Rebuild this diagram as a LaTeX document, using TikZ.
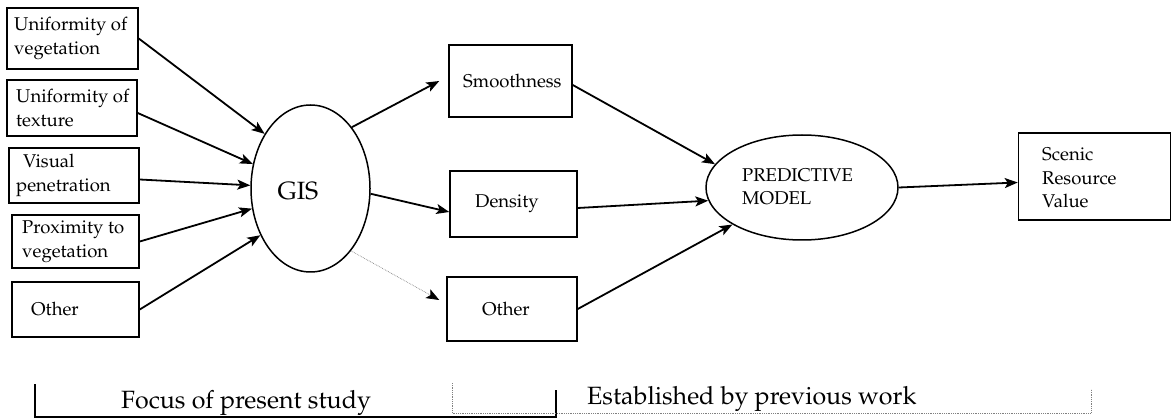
\documentclass[tikz,border=0pt]{standalone}
\usepackage[T1]{fontenc}
\usepackage{mathpazo}
\usetikzlibrary{arrows.meta,shapes.geometric}
\begin{document}
\begin{tikzpicture}[x=1pt,y=-1pt,
  box/.style={draw,line width=1.5pt,rectangle,inner sep=0pt},
  oval/.style={draw,line width=1.5pt,ellipse,inner sep=0pt},
  txt/.style={font=\fontsize{18.5}{23.5}\selectfont,align=left,inner sep=0pt},
  big/.style={font=\fontsize{25}{30}\selectfont,inner sep=0pt},
  foot/.style={font=\fontsize{25}{29}\selectfont,inner sep=0pt},
  arr/.style={line width=1.8pt,-{Stealth[length=13pt,width=10pt,inset=3pt]}},
  darr/.style={draw=gray,line width=0.7pt,densely dotted,-{Stealth[length=13pt,width=10pt,inset=3pt,color=black]}},
  solidbr/.style={line width=1.5pt},
  dotbr/.style={draw=gray,line width=0.8pt,densely dotted}]
\useasboundingbox (0,0) rectangle (1172,419);
% left boxes
\node[box,minimum width=131pt,minimum height=61pt] (b1) at (72.5,38.5) {};
\node[box,minimum width=130pt,minimum height=56pt] (b2) at (72,108) {};
\node[box,minimum width=130pt,minimum height=55pt] (b3) at (74,175.5) {};
\node[box,minimum width=127pt,minimum height=53pt] (b4) at (75.5,241.5) {};
\node[box,minimum width=127pt,minimum height=55pt] (b5) at (75.5,309.5) {};
\node[txt,anchor=west] (t1) at (14,38.5) {Uniformity of\\vegetation};
\node[txt,anchor=west] (t2) at (16,108) {Uniformity of\\texture};
\node[txt,anchor=west] (t3) at (16,175.5) {\hspace*{7pt}Visual\\penetration};
\node[txt,anchor=west] (t4) at (22,241.5) {Proximity to\\vegetation};
\node[txt,anchor=west] (t5) at (31,309.5) {Other};
% GIS
\node[oval,minimum width=119pt,minimum height=167pt] (gis) at (310.5,188.5) {};
\node[big] (gist) at (298,191) {GIS};
% middle boxes
\node[box,minimum width=123pt,minimum height=72pt] (sm) at (510.5,81) {};
\node[box,minimum width=127pt,minimum height=66pt] (de) at (513.5,204) {};
\node[box,minimum width=130pt,minimum height=64pt] (o2) at (512,309) {};
\node[txt,anchor=west] (smt) at (463,81) {Smoothness};
\node[txt,anchor=west] (det) at (475,204) {Density};
\node[txt,anchor=west] (o2t) at (482,309) {Other};
% predictive model
\node[oval,minimum width=192pt,minimum height=105pt] (pm) at (802,187.5) {};
\node[txt,anchor=west] (pmt) at (742,187) {PREDICTIVE\\MODEL};
% scenic
\node[box,minimum width=152pt,minimum height=87pt] (sc) at (1094.5,176.5) {};
\node[txt,anchor=west] (sct) at (1042,178) {Scenic\\Resource\\Value};
% arrows into GIS
\draw[arr] (b1.east) -- (gis.130);
\draw[arr] ([yshift=-5pt]b2.east) -- (gis.157);
\draw[arr] ([yshift=-4pt]b3.east) -- (gis.177);
\draw[arr] (b4.east) -- (gis.199);
\draw[arr] (b5.east) -- (gis.223);
% arrows out of GIS
\draw[arr] (gis.56) -- ([xshift=-9pt]sm.west);
\draw[arr] (gis.-5) -- ([yshift=-8pt]de.west);
\draw[darr] (gis.-57) -- ([xshift=-7pt,yshift=9pt]o2.west);
% into predictive model
\draw[arr] ([yshift=-4pt]sm.east) -- (pm.165);
\draw[arr] ([yshift=-4pt]de.east) -- (pm.188);
\draw[arr] (o2.east) -- (pm.208);
\draw[arr] (pm.east) -- ([yshift=-6pt]sc.west);
% bottom brackets
\coordinate (s1) at (35,384);
\coordinate (s2) at (35,417);
\coordinate (s3) at (556,417);
\coordinate (s4) at (556,390);
\draw[solidbr] (s1) -- (s2) -- (s3) -- (s4);
\coordinate (d1) at (452,383);
\coordinate (d2) at (452,413);
\coordinate (d3) at (1091,413);
\coordinate (d4) at (1091,389);
\draw[dotbr] (d1) -- (d2) -- (d3) -- (d4);
\node[foot,anchor=base west] (focus) at (121,408) {Focus of present study};
\node[foot,anchor=base west] (estab) at (587,404) {Established by previous work};
\end{tikzpicture}
\end{document}
